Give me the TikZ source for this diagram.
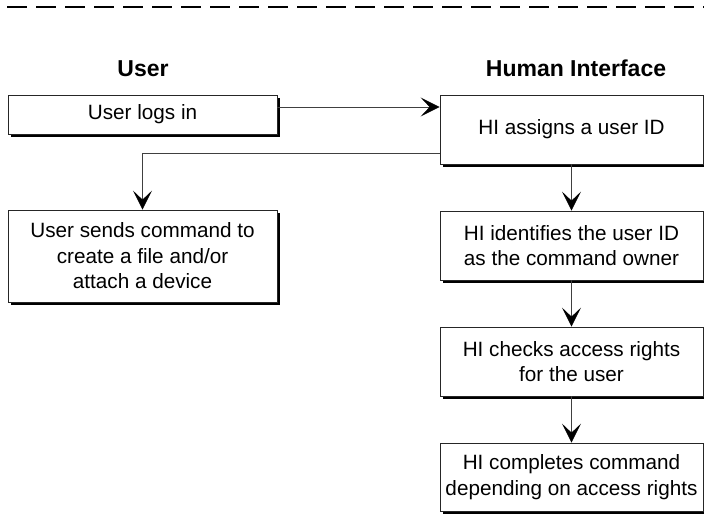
\documentclass[tikz,border=0pt]{standalone}
\usepackage{fontspec}
\setmainfont{Liberation Sans}
\usetikzlibrary{arrows.meta,shadows}
\begin{document}
\begin{tikzpicture}[x=1pt, y=-1pt, >={Stealth[length=19pt,width=19pt,inset=9pt,fill=black,color=black]},
  stepbox/.style={draw=black!85, line width=0.8pt, fill=white, align=center, inner sep=0pt,
    font=\fontsize{20.7}{25.5}\selectfont,
    drop shadow={shadow xshift=3pt, shadow yshift=-3pt, fill=black, opacity=1}},
  heading/.style={font=\fontsize{23}{27}\selectfont\bfseries},
  link/.style={draw=black!75, line width=0.8pt}]
  \useasboundingbox (0,0) rectangle (704,515);
  \draw[line width=2pt, dash pattern=on 20pt off 9pt] (7,7) -- (704,7);
  % column titles
  \node[heading] (user) at (143,68.5) {User};
  \node[heading] (hi) at (576,68.5) {Human Interface};
  % user side
  \node[stepbox, minimum width=269pt, minimum height=39pt] (login) at (142.5,114.5) {User logs in};
  \node[stepbox, minimum width=269pt, minimum height=92pt] (send) at (142.5,256) {User sends command to\\create a file and/or\\attach a device};
  % human interface side
  \node[stepbox, minimum width=263pt, minimum height=69pt] (assign) at (571.5,129.5) {HI assigns a user ID};
  \node[stepbox, minimum width=263pt, minimum height=69pt] (identify) at (571.5,245.5) {HI identifies the user ID\\as the command owner};
  \node[stepbox, minimum width=263pt, minimum height=69pt] (check) at (571.5,361.5) {HI checks access rights\\for the user};
  \node[stepbox, minimum width=263pt, minimum height=68pt] (complete) at (571.5,477) {HI completes command\\depending on access rights};
  % connectors
  \draw[link,->] ([yshift=7.5pt]login.east) -- ([yshift=7.5pt]login.east -| assign.west);
  \draw[link,->] ([yshift=-23.5pt]assign.west) -| (send.north);
  \draw[link,->] (assign.south) -- (identify.north);
  \draw[link,->] (identify.south) -- (check.north);
  \draw[link,->] (check.south) -- (complete.north);
\end{tikzpicture}
\end{document}
